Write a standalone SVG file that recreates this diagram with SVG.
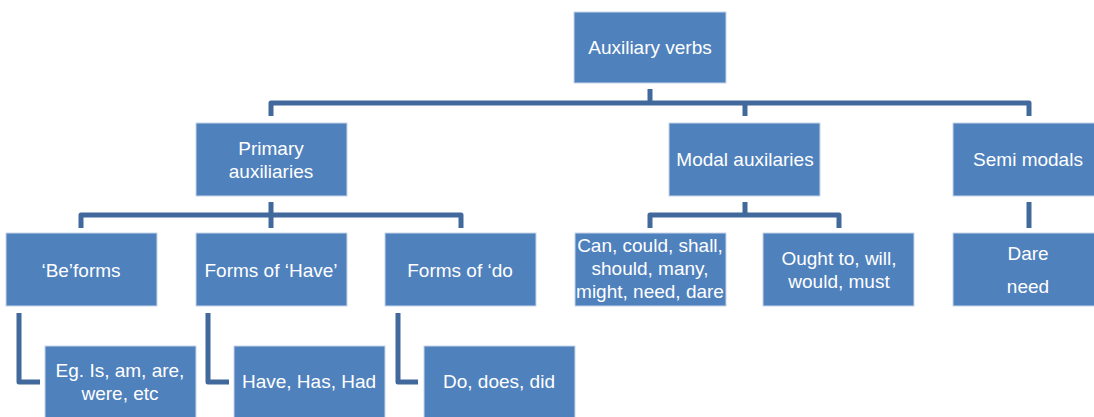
<svg xmlns="http://www.w3.org/2000/svg" width="1094" height="417" viewBox="0 0 1094 417">
<style>
.box{fill:#4F81BD;stroke:#C9D6EA;stroke-width:1}
.t{font-family:"Liberation Sans",Arial,sans-serif;font-size:19px;fill:#FFFFFF;text-anchor:middle}
.c{fill:none;stroke:#41699C;stroke-width:5;stroke-linejoin:round;stroke-linecap:butt}
</style>
<rect width="1094" height="417" fill="#FFFFFF"/>
<g id="connectors">
<path class="c" d="M650,89 V103"/>
<path class="c" d="M271,116 V103 H1029 V116"/>
<path class="c" d="M745,103 V116"/>
<path class="c" d="M271,202 V215"/>
<path class="c" d="M81,228 V215 H461 V228"/>
<path class="c" d="M271,215 V228"/>
<path class="c" d="M745,202 V215"/>
<path class="c" d="M650,228 V215 H839 V228"/>
<path class="c" d="M1029,202 V228"/>
<path class="c" d="M19,313 V382 H40"/>
<path class="c" d="M208,313 V382 H229"/>
<path class="c" d="M398,313 V382 H418"/>
</g>
<g id="n-aux"><rect class="box" x="574" y="12" width="152" height="71"/><text class="t" x="650" y="54">Auxiliary verbs</text></g>
<g id="n-primary"><rect class="box" x="196" y="123" width="151" height="73"/><text class="t" x="271" y="155">Primary</text><text class="t" x="271" y="178">auxiliaries</text></g>
<g id="n-modal"><rect class="box" x="669" y="123" width="151" height="73"/><text class="t" x="745" y="166">Modal auxilaries</text></g>
<g id="n-semi"><rect class="box" x="953" y="123" width="151" height="73"/><text class="t" x="1028" y="166">Semi modals</text></g>
<g id="n-be"><rect class="box" x="6" y="233" width="151" height="73"/><text class="t" x="81" y="277">‘Be’forms</text></g>
<g id="n-have"><rect class="box" x="196" y="233" width="151" height="73"/><text class="t" x="271" y="277">Forms of ‘Have’</text></g>
<g id="n-do"><rect class="box" x="385" y="233" width="151" height="73"/><text class="t" x="460" y="277">Forms of ‘do</text></g>
<g id="n-can"><rect class="box" x="575" y="233" width="151" height="73"/><text class="t" x="650" y="252">Can, could, shall,</text><text class="t" x="650" y="275">should, many,</text><text class="t" x="650" y="298">might, need, dare</text></g>
<g id="n-ought"><rect class="box" x="763" y="233" width="151" height="73"/><text class="t" x="839" y="265">Ought to, will,</text><text class="t" x="839" y="288">would, must</text></g>
<g id="n-dare"><rect class="box" x="953" y="233" width="151" height="73"/><text class="t" x="1028" y="260">Dare</text><text class="t" x="1028" y="293">need</text></g>
<g id="n-eg"><rect class="box" x="45" y="346" width="151" height="73"/><text class="t" x="120" y="377">Eg. Is, am, are,</text><text class="t" x="120" y="400">were, etc</text></g>
<g id="n-hhh"><rect class="box" x="234" y="346" width="151" height="73"/><text class="t" x="309" y="388">Have, Has, Had</text></g>
<g id="n-ddd"><rect class="box" x="424" y="346" width="151" height="73"/><text class="t" x="499" y="388">Do, does, did</text></g>
</svg>
